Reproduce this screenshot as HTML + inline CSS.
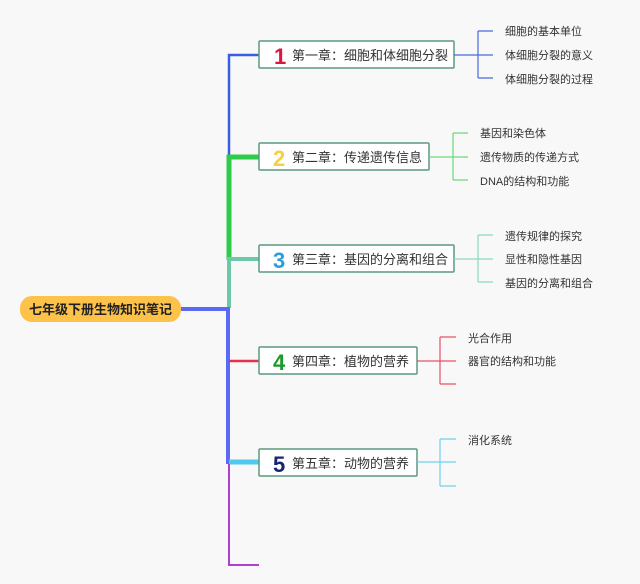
<!DOCTYPE html>
<html><head><meta charset="utf-8"><style>
html,body{margin:0;padding:0;background:#f8f8f9;}
svg{display:block;}
text{font-family:"Liberation Sans","Noto Sans CJK SC",sans-serif;}
</style></head><body>
<svg width="640" height="584" viewBox="0 0 640 584" xmlns="http://www.w3.org/2000/svg">
<rect width="640" height="584" fill="#f8f8f9"/>
<!-- spine -->
<path d="M259 55 H229 V308" stroke="#3a5ee0" stroke-width="2.5" fill="none"/>
<path d="M259 157 H229 V260" stroke="#2ecc4a" stroke-width="5" fill="none"/>
<path d="M259 259 H229 V308" stroke="#6cc8a8" stroke-width="4" fill="none"/>
<path d="M181 309 H228 V462 H259" stroke="#5a6af5" stroke-width="4" fill="none"/>
<path d="M259 361 H229" stroke="#e8304a" stroke-width="2.5" fill="none"/>
<path d="M259 462 H229" stroke="#50c8f0" stroke-width="5" fill="none"/>
<path d="M229 464 V565 H259" stroke="#b040d0" stroke-width="2" fill="none"/>
<!-- root -->
<rect x="20" y="296" width="161" height="26" rx="12" fill="#fcc24a"/>
<text x="100.5" y="314" font-size="13" font-weight="bold" text-anchor="middle" fill="#222">七年级下册生物知识笔记</text>
<!-- chapter boxes -->
<g stroke="#5a9a80" stroke-width="1.5" fill="#fff">
<rect x="259" y="41" width="195" height="27" rx="1"/>
<rect x="259" y="143" width="170" height="27" rx="1"/>
<rect x="259" y="245" width="195" height="27" rx="1"/>
<rect x="259" y="347" width="158" height="27" rx="1"/>
<rect x="259" y="449" width="158" height="27" rx="1"/>
</g>
<g font-size="22" font-weight="bold">
<text x="274" y="64" fill="#e0143c">1</text>
<text x="273" y="166" fill="#f5d040">2</text>
<text x="273" y="268" fill="#2b9de0">3</text>
<text x="273" y="370" fill="#1a9a2a">4</text>
<text x="273" y="472" fill="#1a2370">5</text>
</g>
<g font-size="13" fill="#333">
<text x="292" y="60">第一章：细胞和体细胞分裂</text>
<text x="292" y="162">第二章：传递遗传信息</text>
<text x="292" y="264">第三章：基因的分离和组合</text>
<text x="292" y="366">第四章：植物的营养</text>
<text x="292" y="468">第五章：动物的营养</text>
</g>
<!-- brackets -->
<g fill="none" stroke-width="1.2">
<path d="M454 55 H493 M478 31 V78 M478 31 H493 M478 78 H493" stroke="#4a6ae0"/>
<path d="M429 157 H468 M453 133 V180 M453 133 H468 M453 180 H468" stroke="#6ad87a"/>
<path d="M454 259 H493 M478 235 V282 M478 235 H493 M478 282 H493" stroke="#8ad8c0"/>
<path d="M417 361 H456 M440 337 V384 M440 337 H456 M440 384 H456" stroke="#e85068"/>
<path d="M417 462 H456 M440 439 V486 M440 439 H456 M440 486 H456" stroke="#70d0f0"/>
</g>
<g font-size="11" fill="#333">
<text x="505" y="35">细胞的基本单位</text>
<text x="505" y="59">体细胞分裂的意义</text>
<text x="505" y="83">体细胞分裂的过程</text>
<text x="480" y="137">基因和染色体</text>
<text x="480" y="161">遗传物质的传递方式</text>
<text x="480" y="185">DNA的结构和功能</text>
<text x="505" y="240">遗传规律的探究</text>
<text x="505" y="263">显性和隐性基因</text>
<text x="505" y="287">基因的分离和组合</text>
<text x="468" y="342">光合作用</text>
<text x="468" y="365">器官的结构和功能</text>
<text x="468" y="444">消化系统</text>
</g>
</svg>
</body></html>
